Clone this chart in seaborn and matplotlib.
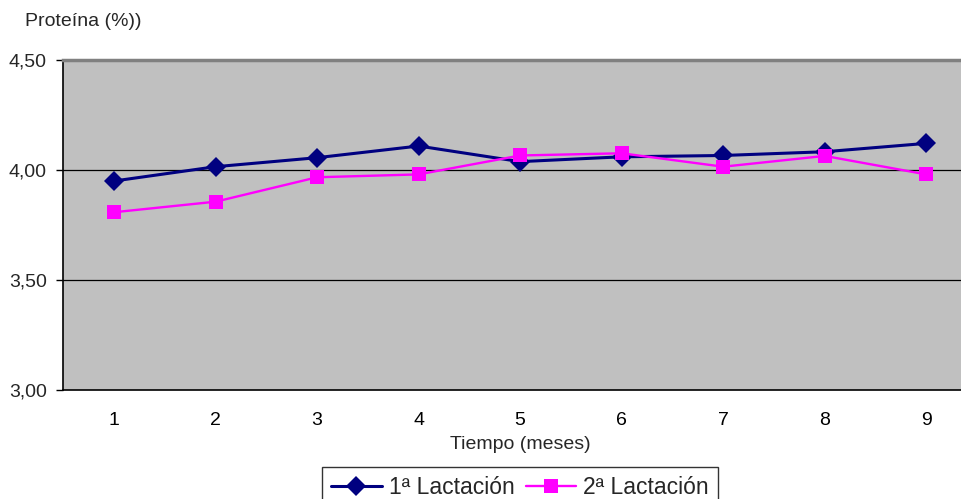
import matplotlib
matplotlib.use("Agg")
import matplotlib.pyplot as plt
from matplotlib.ticker import FixedLocator, FuncFormatter
import seaborn as sns
import pandas as pd

months = [1, 2, 3, 4, 5, 6, 7, 8, 9]
lact1 = [3.95, 4.015, 4.056, 4.109, 4.038, 4.06, 4.066, 4.083, 4.121]
lact2 = [3.808, 3.856, 3.967, 3.98, 4.066, 4.076, 4.015, 4.064, 3.98]
series_names = ["1ª Lactación", "2ª Lactación"]
y_ticks = [3.00, 3.50, 4.00, 4.50]

df = pd.DataFrame({
    "mes": months * 2,
    "proteina": lact1 + lact2,
    "serie": [series_names[0]] * len(months) + [series_names[1]] * len(months),
})

sns.set_theme(style="white")
plt.rcParams["font.family"] = ["Liberation Sans", "DejaVu Sans"]

fig = plt.figure(figsize=(9.62, 4.99), dpi=100)
ax = fig.add_axes([63.3 / 962, 1 - 390 / 499, 913.7 / 962, 330 / 499])
ax.set_facecolor("#C0C0C0")

palette = {series_names[0]: "#000080", series_names[1]: "#FF00FF"}
markers = {series_names[0]: "D", series_names[1]: "s"}
sizes = {series_names[0]: 10.5, series_names[1]: 10.5}
widths = {series_names[0]: 2.2, series_names[1]: 1.7}

sns.lineplot(data=df, x="mes", y="proteina", hue="serie", style="serie",
             palette=palette, markers=markers, dashes=False, ax=ax,
             markeredgewidth=0, legend=False)
for line, name in zip(ax.get_lines(), series_names):
    line.set_markersize(sizes[name])
    line.set_linewidth(widths[name])

ax.set_xlim(0.5, 9.5)
ax.set_ylim(3.0, 4.5)
ax.yaxis.set_major_locator(FixedLocator(y_ticks))
ax.yaxis.set_major_formatter(FuncFormatter(lambda v, p: f"{v:.2f}".replace(".", ",")))
ax.xaxis.set_major_locator(FixedLocator(months))
ax.xaxis.set_minor_locator(FixedLocator([m - 0.5 for m in months] + [9.5]))
ax.tick_params(axis="x", which="major", length=0, pad=16, labelsize=14, colors="black")
ax.tick_params(axis="x", which="minor", length=5, width=1, color="black", direction="out")
ax.tick_params(axis="y", which="major", length=5, width=1, color="black", direction="out",
               labelsize=14, pad=7, left=True)
for g in [3.5, 4.0]:
    ax.axhline(g, color="black", linewidth=0.9, zorder=1)

for side in ["left", "bottom"]:
    ax.spines[side].set_color("black")
    ax.spines[side].set_linewidth(1.2)
ax.spines["top"].set_color("#808080")
ax.spines["top"].set_linewidth(2.5)
ax.spines["right"].set_visible(False)

ax.set_xlabel("Tiempo (meses)", fontsize=14, labelpad=5)
ax.set_ylabel("")
fig.text(25 / 962, 1 - 21 / 499, "Proteína (%))", fontsize=14, va="center", ha="left")

handles = [plt.Line2D([], [], color=palette[n], marker=markers[n], linewidth=widths[n],
                      markersize=sizes[n], markeredgewidth=0)
           for n in series_names]
leg = fig.legend(handles, series_names, loc="upper center", ncol=2,
                 bbox_to_anchor=(520 / 962, 1 - 466.5 / 499), frameon=True,
                 fontsize=16.5, handlelength=2.2, handletextpad=0.3, columnspacing=0.5,
                 borderpad=0.4, borderaxespad=0, fancybox=False)
leg.get_frame().set_edgecolor("black")
leg.get_frame().set_linewidth(1)

fig.savefig("out.png", dpi=100)
